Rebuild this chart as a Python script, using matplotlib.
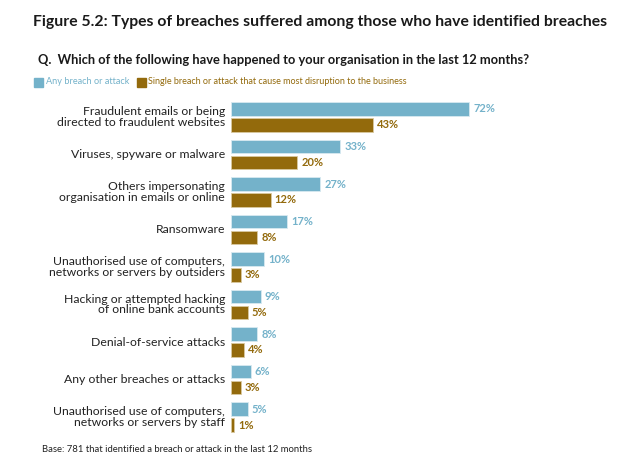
import numpy as np
import matplotlib.pyplot as plt

plt.rcParams['font.family'] = ['Lato', 'DejaVu Sans']

categories = [
    'Fraudulent emails or being\ndirected to fraudulent websites',
    'Viruses, spyware or malware',
    'Others impersonating\norganisation in emails or online',
    'Ransomware',
    'Unauthorised use of computers,\nnetworks or servers by outsiders',
    'Hacking or attempted hacking\nof online bank accounts',
    'Denial-of-service attacks',
    'Any other breaches or attacks',
    'Unauthorised use of computers,\nnetworks or servers by staff',
]
any_breach = [72, 33, 27, 17, 10, 9, 8, 6, 5]
most_disruptive = [43, 20, 12, 8, 3, 5, 4, 3, 1]

blue = '#74b2ca'
brown = '#936a0c'

fig = plt.figure(figsize=(6.27, 4.75), dpi=100)
ax = fig.add_axes([231 / 627, 0.0826, 331 / 627, 0.7106])

y = np.arange(len(categories))
h = 0.37
off = 0.213
ax.barh(y - off, any_breach, height=h, color=blue, edgecolor='#d8e9f0', linewidth=0.6)
ax.barh(y + off, most_disruptive, height=h, color=brown, edgecolor='#d9c9a0', linewidth=0.6)

for i in range(len(categories)):
    ax.text(any_breach[i] + 1.2, y[i] - off, f'{any_breach[i]}%', va='center', ha='left',
            color=blue, fontsize=8.0, fontweight='bold')
    ax.text(most_disruptive[i] + 1.2, y[i] + off, f'{most_disruptive[i]}%', va='center', ha='left',
            color=brown, fontsize=8.0, fontweight='bold')
    ax.text(-1.8, y[i], categories[i], va='center', ha='right', fontsize=8.8,
            color='#222222', linespacing=0.95)

ax.set_xlim(0, 100)
ax.set_ylim(len(categories) - 0.5, -0.5)
ax.axis('off')

fig.text(33 / 627, 1 - 22 / 475, 'Figure 5.2: Types of breaches suffered among those who have identified breaches',
         fontsize=11.3, fontweight='bold', va='center', ha='left', color='#1a1a1a')
fig.text(38 / 627, 1 - 60 / 475, 'Q.  Which of the following have happened to your organisation in the last 12 months?',
         fontsize=9.3, fontweight='bold', va='center', ha='left', color='#1a1a1a')

fig.patches.append(plt.Rectangle((34 / 627, 1 - 87 / 475), 9 / 627, 9 / 475, color=blue,
                                 transform=fig.transFigure, figure=fig))
fig.text(46 / 627, 1 - 82 / 475, 'Any breach or attack', fontsize=6.6, color=blue, va='center', ha='left')
fig.patches.append(plt.Rectangle((137 / 627, 1 - 87 / 475), 9 / 627, 9 / 475, color=brown,
                                 transform=fig.transFigure, figure=fig))
fig.text(148 / 627, 1 - 82 / 475, 'Single breach or attack that cause most disruption to the business',
         fontsize=6.5, color=brown, va='center', ha='left')

fig.text(42 / 627, 1 - 449 / 475, 'Base: 781 that identified a breach or attack in the last 12 months',
         fontsize=6.8, color='#222222', va='center', ha='left')

fig.savefig('out.png', dpi=100)
